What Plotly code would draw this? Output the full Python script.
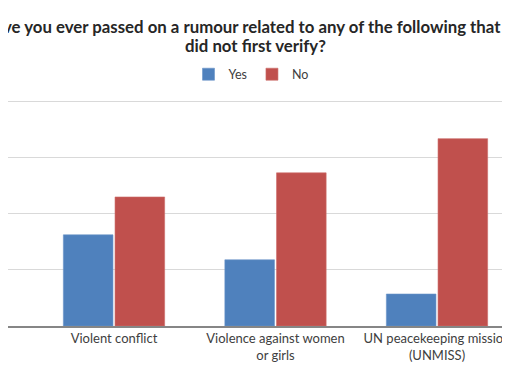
import plotly.graph_objects as go

categories = ["Violent conflict", "Violence against women<br>or girls", "UN peacekeeping mission<br>(UNMISS)"]
yes_values = [32.5, 23.6, 11.4]
no_values = [46.0, 54.6, 66.8]
series_names = ["Yes", "No"]
title_lines = ["Have you ever passed on a rumour related to any of the following that you",
               "did not first verify?"]

OFF = 8  # browser body margin
W, H = 510 - OFF, 382 - OFF
ymax = 82
px_per_unit = (326 - 102) / 80
plot_left, plot_right = 5 - OFF, 510 - OFF
plot_bottom = 326 - OFF
plot_top = plot_bottom - ymax * px_per_unit
cat_px0, cat_step = 114 - OFF, 161.5

fig = go.Figure()
fig.add_trace(go.Bar(name=series_names[0], x=categories, y=yes_values,
                     marker=dict(color="#4F81BD", line=dict(color="#6A93C8", width=0.6))))
fig.add_trace(go.Bar(name=series_names[1], x=categories, y=no_values,
                     marker=dict(color="#C0504D", line=dict(color="#CC6C6A", width=0.6))))

left_m = max(plot_left, 0)
xr = [(left_m - cat_px0) / cat_step, (plot_right - cat_px0) / cat_step]
ph = plot_bottom - plot_top


def py(px):
    return 1 + (plot_top - px) / ph


def pxx(px):
    return (px - left_m) / (plot_right - left_m)


for txt, ypx, cx in zip(title_lines, [27 - OFF, 46 - OFF], [257 - OFF, 255 - OFF]):
    fig.add_annotation(text="<b>" + txt + "</b>", xref="paper", yref="paper",
                       x=pxx(cx), y=py(ypx),
                       xanchor="center", yanchor="middle", showarrow=False,
                       font=dict(size=16.8, color="#262626", family="Lato, sans-serif"))

fig.update_layout(
    width=W, height=H,
    margin=dict(l=left_m, r=W - plot_right, t=plot_top, b=H - plot_bottom, pad=0),
    paper_bgcolor="white", plot_bgcolor="white",
    font=dict(family="Lato, sans-serif", color="#404040"),
    barmode="group", bargap=0.36, bargroupgap=0.04,
    showlegend=True,
    legend=dict(orientation="h", x=pxx(251 - OFF), xanchor="center",
                y=py(75 - OFF), yanchor="middle",
                font=dict(size=12.5, color="#404040"), bgcolor="rgba(0,0,0,0)"),
    xaxis=dict(type="category", range=xr, showline=True, linecolor="#868686", linewidth=1.5,
               showgrid=False, ticks="", tickfont=dict(size=13, color="#404040"), fixedrange=True),
    yaxis=dict(range=[0, ymax], dtick=20, showgrid=True, gridcolor="#D9D9D9", gridwidth=1,
               showticklabels=False, zeroline=False, showline=False, ticks=""),
)

fig.write_html("out.html")
